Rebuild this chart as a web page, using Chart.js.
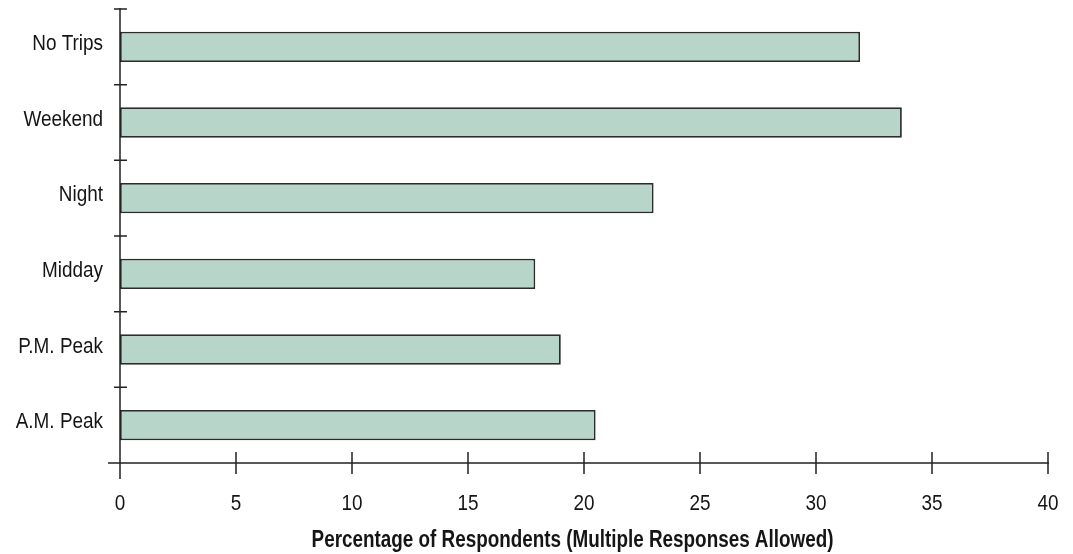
<!DOCTYPE html>
<html>
<head>
<meta charset="utf-8">
<script src="https://cdn.jsdelivr.net/npm/chart.js@4/dist/chart.umd.min.js"></script>
<style>
  html, body { margin: 0; padding: 0; background: #ffffff; }
  canvas { display: block; }
</style>
</head>
<body>
<canvas id="chart" width="1073" height="554"></canvas>
<script>
// Trip times reported by respondents
const categories = ['No Trips', 'Weekend', 'Night', 'Midday', 'P.M. Peak', 'A.M. Peak'];
const percentages = [31.9, 33.7, 23.0, 17.9, 19.0, 20.5];
const xTickValues = [0, 5, 10, 15, 20, 25, 30, 35, 40];
const xAxisTitle = 'Percentage of Respondents (Multiple Responses Allowed)';

const FONT = "'Liberation Sans', Arial, Helvetica, sans-serif";
const INK = '#151515';

const canvas = document.getElementById('chart');
const ctx2d = canvas.getContext('2d');

// No narrow face is available, so chart text is condensed horizontally
// around its anchor point (alignment is preserved).
const plainFillText = ctx2d.fillText.bind(ctx2d);
ctx2d.fillText = function (text, x, y, maxWidth) {
  const k = /bold/.test(this.font) ? 0.82 : 0.86;
  this.save();
  this.translate(x, y);
  this.scale(k, 1);
  if (maxWidth === undefined) plainFillText(text, 0, 0);
  else plainFillText(text, 0, 0, maxWidth / k);
  this.restore();
};

// Axis lines with tick marks that cross the axis, plus the axis caption
const crossAxes = {
  id: 'crossAxes',
  afterDatasetsDraw(chart) {
    const { ctx, scales: { x, y }, chartArea } = chart;
    ctx.save();
    ctx.strokeStyle = '#222222';
    ctx.lineWidth = 1.5;
    ctx.beginPath();
    // vertical axis
    ctx.moveTo(chartArea.left, chartArea.top - 1);
    ctx.lineTo(chartArea.left, chartArea.bottom + 16);
    // horizontal axis
    ctx.moveTo(chartArea.left - 12, chartArea.bottom);
    ctx.lineTo(chartArea.right + 1, chartArea.bottom);
    // x ticks
    xTickValues.forEach(v => {
      const px = x.getPixelForValue(v);
      ctx.moveTo(px, chartArea.bottom - 11);
      ctx.lineTo(px, chartArea.bottom + 11);
    });
    // y ticks at category boundaries
    const n = categories.length;
    for (let i = 0; i <= n; i++) {
      const py = y.getPixelForValue(i - 0.5);
      ctx.moveTo(chartArea.left - 6, py);
      ctx.lineTo(chartArea.left + 7, py);
    }
    ctx.stroke();

    // axis caption below the tick labels
    ctx.fillStyle = INK;
    ctx.font = "bold 23px " + FONT;
    ctx.textAlign = 'center';
    ctx.textBaseline = 'middle';
    ctx.fillText(xAxisTitle, chart.width / 2 + 36, chartArea.bottom + 77.5);
    ctx.restore();
  }
};

new Chart(canvas, {
  type: 'bar',
  data: {
    labels: categories,
    datasets: [{
      data: percentages,
      backgroundColor: '#b8d5c9',
      borderColor: '#2b2b2b',
      borderWidth: 1.8,
      borderSkipped: false,
      barPercentage: 0.4,
      categoryPercentage: 1.0
    }]
  },
  options: {
    indexAxis: 'y',
    responsive: false,
    devicePixelRatio: 1,
    animation: false,
    layout: { padding: { left: 0, right: 0, top: 9, bottom: 0 } },
    plugins: {
      legend: { display: false },
      tooltip: { enabled: false },
      title: { display: false }
    },
    scales: {
      x: {
        min: 0,
        max: 40,
        grid: { display: false, drawTicks: false },
        border: { display: false },
        ticks: {
          stepSize: 5,
          color: INK,
          font: { family: FONT, size: 22 },
          padding: 28,
          maxRotation: 0
        },
        afterFit(scale) {
          scale.height = 91;
          scale.paddingLeft = 0;
          scale.paddingRight = 25;
        }
      },
      y: {
        grid: { display: false, drawTicks: false },
        border: { display: false },
        ticks: {
          color: INK,
          font: { family: FONT, size: 22 },
          padding: 17,
          labelOffset: -3
        },
        afterFit(scale) {
          scale.width = 120;
          scale.paddingTop = 0;
          scale.paddingBottom = 0;
        }
      }
    }
  },
  plugins: [crossAxes]
});
</script>
</body>
</html>
